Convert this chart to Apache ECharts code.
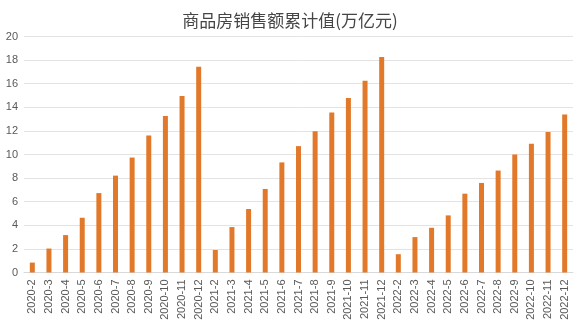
<!DOCTYPE html>
<html>
<head>
<meta charset="utf-8">
<script src="https://cdn.jsdelivr.net/npm/echarts@6/dist/echarts.min.js"></script>
<style>
  html, body { margin: 0; padding: 0; background: #ffffff; }
  #chart { width: 580px; height: 326px; }
</style>
</head>
<body>
<div id="chart"></div>
<script>
// Cumulative commodity housing sales (trillion yuan), year-to-date by month
const months = [
  '2020-2','2020-3','2020-4','2020-5','2020-6','2020-7','2020-8','2020-9','2020-10','2020-11','2020-12',
  '2021-2','2021-3','2021-4','2021-5','2021-6','2021-7','2021-8','2021-9','2021-10','2021-11','2021-12',
  '2022-2','2022-3','2022-4','2022-5','2022-6','2022-7','2022-8','2022-9','2022-10','2022-11','2022-12'
];
const sales2020 = [0.84, 2.03, 3.17, 4.64, 6.73, 8.21, 9.74, 11.6, 13.26, 14.96, 17.44];
const sales2021 = [1.91, 3.85, 5.38, 7.08, 9.33, 10.71, 11.96, 13.55, 14.79, 16.24, 18.26];
const sales2022 = [1.55, 3.0, 3.79, 4.84, 6.68, 7.59, 8.64, 10.0, 10.91, 11.9, 13.38];
const yTicks = [0, 2, 4, 6, 8, 10, 12, 14, 16, 18, 20];

const values = sales2020.concat(sales2021, sales2022);

const chart = echarts.init(document.getElementById('chart'), null, { renderer: 'canvas' });
chart.setOption({
  animation: false,
  backgroundColor: '#ffffff',
  title: {
    text: '商品房销售额累计值(万亿元)',
    left: 'center',
    top: 7,
    textStyle: {
      fontFamily: '"Noto Sans CJK SC", sans-serif',
      fontSize: 17,
      fontWeight: 'normal',
      color: '#454545'
    }
  },
  grid: { left: 24, right: 7, top: 36.5, bottom: 53.5, containLabel: false },
  xAxis: {
    type: 'category',
    data: months,
    boundaryGap: true,
    axisLine: { show: true, lineStyle: { color: '#d9d9d9', width: 1 } },
    axisTick: { show: false },
    axisLabel: {
      interval: 0,
      rotate: 90,
      margin: 7,
      fontFamily: '"Liberation Sans", Arial, sans-serif',
      fontSize: 11,
      color: '#595959'
    }
  },
  yAxis: {
    type: 'value',
    min: yTicks[0],
    max: yTicks[yTicks.length - 1],
    interval: 2,
    axisLine: { show: false },
    axisTick: { show: false },
    splitLine: { show: true, lineStyle: { color: '#e3e3e3', width: 1 } },
    axisLabel: {
      margin: 6,
      fontFamily: '"Liberation Sans", Arial, sans-serif',
      fontSize: 11,
      color: '#595959'
    }
  },
  series: [{
    type: 'bar',
    data: values,
    barWidth: 5,
    itemStyle: { color: '#E2792A' }
  }]
});
</script>
</body>
</html>
